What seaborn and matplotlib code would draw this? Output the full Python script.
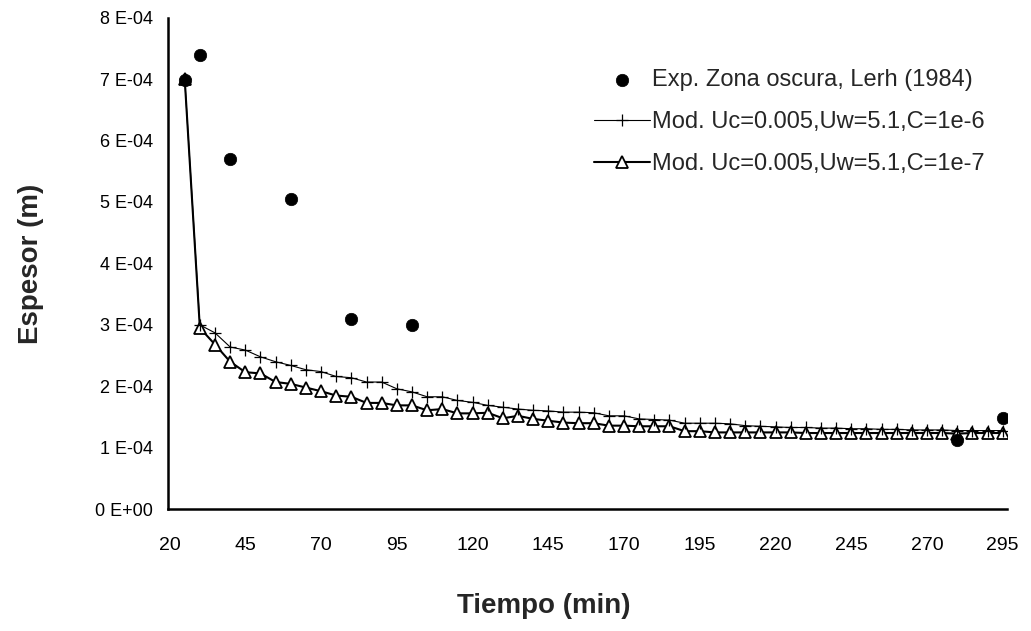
import matplotlib
matplotlib.use("Agg")
import matplotlib.pyplot as plt
import seaborn as sns
import pandas as pd

# ---------------- data ----------------
tiempo_exp = [25, 30, 40, 60, 80, 100, 280, 295]
espesor_exp = [6.98e-4, 7.40e-4, 5.70e-4, 5.05e-4, 3.10e-4, 3.00e-4, 1.12e-4, 1.48e-4]

tiempo_mod = [25, 30, 35, 40, 45, 50, 55, 60, 65, 70, 75, 80, 85, 90, 95, 100,
              105, 110, 115, 120, 125, 130, 135, 140, 145, 150, 155, 160, 165,
              170, 175, 180, 185, 190, 195, 200, 205, 210, 215, 220, 225, 230,
              235, 240, 245, 250, 255, 260, 265, 270, 275, 280, 285, 290, 295]

espesor_c6 = [7.00e-4, 3.00e-4, 2.87e-4, 2.64e-4, 2.59e-4, 2.48e-4, 2.40e-4, 2.34e-4,
              2.27e-4, 2.24e-4, 2.16e-4, 2.14e-4, 2.07e-4, 2.07e-4, 1.96e-4, 1.91e-4,
              1.83e-4, 1.83e-4, 1.77e-4, 1.74e-4, 1.69e-4, 1.66e-4, 1.63e-4, 1.61e-4,
              1.60e-4, 1.58e-4, 1.58e-4, 1.57e-4, 1.52e-4, 1.52e-4, 1.47e-4, 1.46e-4,
              1.45e-4, 1.40e-4, 1.40e-4, 1.40e-4, 1.39e-4, 1.36e-4, 1.35e-4, 1.34e-4,
              1.33e-4, 1.33e-4, 1.32e-4, 1.32e-4, 1.31e-4, 1.31e-4, 1.30e-4, 1.30e-4,
              1.29e-4, 1.29e-4, 1.29e-4, 1.28e-4, 1.28e-4, 1.28e-4, 1.28e-4]

espesor_c7 = [7.00e-4, 2.95e-4, 2.68e-4, 2.40e-4, 2.23e-4, 2.21e-4, 2.07e-4, 2.04e-4,
              1.98e-4, 1.92e-4, 1.85e-4, 1.83e-4, 1.73e-4, 1.73e-4, 1.69e-4, 1.69e-4,
              1.61e-4, 1.63e-4, 1.56e-4, 1.56e-4, 1.57e-4, 1.48e-4, 1.52e-4, 1.47e-4,
              1.44e-4, 1.41e-4, 1.40e-4, 1.40e-4, 1.36e-4, 1.36e-4, 1.35e-4, 1.35e-4,
              1.35e-4, 1.27e-4, 1.27e-4, 1.25e-4, 1.25e-4, 1.25e-4, 1.25e-4, 1.25e-4,
              1.25e-4, 1.24e-4, 1.24e-4, 1.24e-4, 1.24e-4, 1.24e-4, 1.24e-4, 1.24e-4,
              1.24e-4, 1.24e-4, 1.24e-4, 1.23e-4, 1.24e-4, 1.24e-4, 1.24e-4]

x_ticks = [20, 45, 70, 95, 120, 145, 170, 195, 220, 245, 270, 295]
y_ticks = [0, 1e-4, 2e-4, 3e-4, 4e-4, 5e-4, 6e-4, 7e-4, 8e-4]
y_tick_labels = ["0 E+00", "1 E-04", "2 E-04", "3 E-04", "4 E-04",
                 "5 E-04", "6 E-04", "7 E-04", "8 E-04"]

lbl_exp = "Exp. Zona oscura, Lerh (1984)"
lbl_c6 = "Mod. Uc=0.005,Uw=5.1,C=1e-6"
lbl_c7 = "Mod. Uc=0.005,Uw=5.1,C=1e-7"

# ---------------- style ----------------
sns.set_style("white")
plt.rcParams["font.family"] = ["Liberation Sans", "DejaVu Sans"]

fig = plt.figure(figsize=(10.31, 6.31), dpi=100)
ax = fig.add_axes([0.163, 0.193, 0.814, 0.779])

df_mod = pd.DataFrame({"t": tiempo_mod, "c6": espesor_c6, "c7": espesor_c7})
df_exp = pd.DataFrame({"t": tiempo_exp, "e": espesor_exp})

sns.lineplot(data=df_mod, x="t", y="c6", ax=ax, color="black", linewidth=0.8,
             marker="+", markersize=8, markeredgewidth=0.9,
             markeredgecolor="black", label=lbl_c6, zorder=3)
sns.lineplot(data=df_mod, x="t", y="c7", ax=ax, color="black", linewidth=1.5,
             marker="^", markersize=8, markerfacecolor="white",
             markeredgecolor="black", markeredgewidth=1.3, label=lbl_c7, zorder=2)
sns.scatterplot(data=df_exp, x="t", y="e", ax=ax, color="black", s=80,
                edgecolor="black", linewidth=0.5, label=lbl_exp, zorder=4)

ax.set_xlim(19.5, 296.5)
ax.set_ylim(0, 8e-4)
ax.set_xticks(x_ticks)
ax.set_xticklabels([str(v) for v in x_ticks])
ax.set_yticks(y_ticks)
ax.set_yticklabels(y_tick_labels)
ax.tick_params(axis="x", length=0, labelsize=14, colors="black", pad=20)
ax.tick_params(axis="y", length=0, labelsize=13, colors="black", pad=11)

for s in ["top", "right"]:
    ax.spines[s].set_visible(False)
for s in ["left", "bottom"]:
    ax.spines[s].set_color("black")
    ax.spines[s].set_linewidth(1.8)

ax.set_xlabel("Tiempo (min)", fontsize=20, fontweight="bold")
ax.set_ylabel("Espesor (m)", fontsize=20, fontweight="bold")
ax.xaxis.set_label_coords(0.448, -0.196)
ax.xaxis.label.set_va("center")
ax.yaxis.set_label_coords(-0.163, 0.5)
ax.yaxis.label.set_va("center")

handles, labels = ax.get_legend_handles_labels()
order = [labels.index(lbl_exp), labels.index(lbl_c6), labels.index(lbl_c7)]
leg = ax.legend([handles[i] for i in order], [labels[i] for i in order],
                loc="upper left", bbox_to_anchor=(0.496, 0.915), frameon=False,
                fontsize=17, handlelength=2.4, handletextpad=0.05,
                labelspacing=0.85, borderaxespad=0)

fig.savefig("out.png", dpi=100, facecolor="white")
